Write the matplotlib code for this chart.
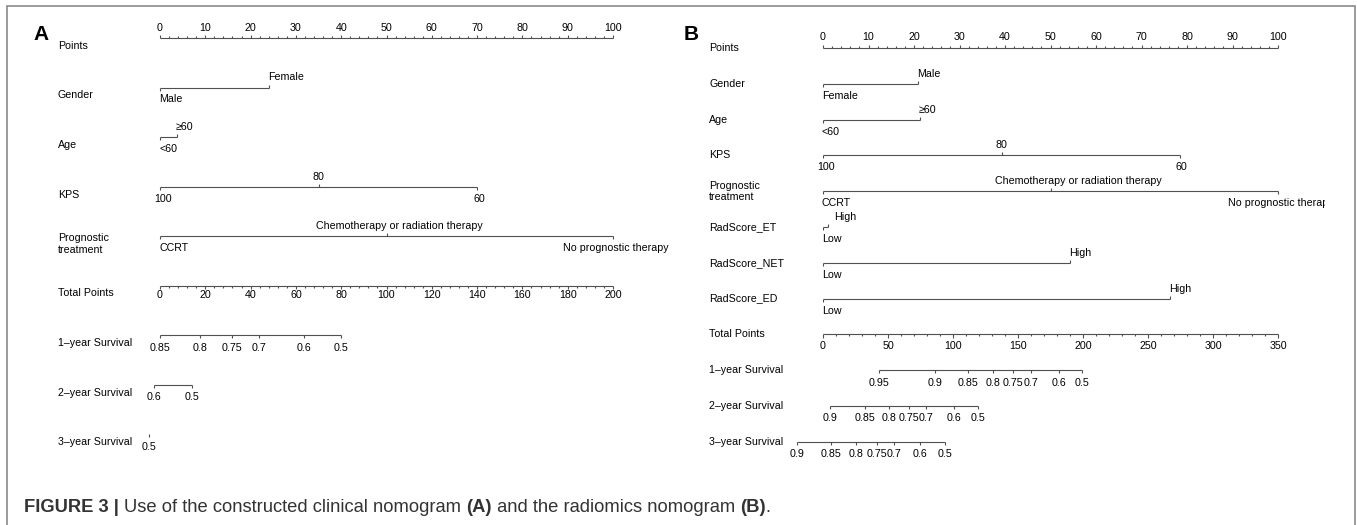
import numpy as np
import matplotlib.pyplot as plt
from matplotlib.patches import Rectangle

plt.rcParams['font.family'] = ['Liberation Sans', 'DejaVu Sans']

# ---------------- panel A : clinical nomogram ----------------
a_points = [0, 10, 20, 30, 40, 50, 60, 70, 80, 90, 100]
a_gender = ['Male', 'Female']
a_gender_pts = [0, 24]
a_age = ['<60', '≥60']
a_age_pts = [0, 3.7]
a_kps = ['100', '80', '60']
a_kps_pts = [0, 35, 70]
a_treat = ['CCRT', 'Chemotherapy or radiation therapy', 'No prognostic therapy']
a_treat_pts = [0, 50, 100]
a_total = [0, 20, 40, 60, 80, 100, 120, 140, 160, 180, 200]
a_surv1 = ['0.85', '0.8', '0.75', '0.7', '0.6', '0.5']
a_surv1_tp = [0, 17.7, 31.8, 43.5, 63.4, 80]
a_surv2 = ['0.6', '0.5']
a_surv2_tp = [-2.6, 14.3]
a_surv3 = ['0.5']
a_surv3_tp = [-5.0]

# ---------------- panel B : radiomics nomogram ----------------
b_points = [0, 10, 20, 30, 40, 50, 60, 70, 80, 90, 100]
b_gender = ['Female', 'Male']
b_gender_pts = [0, 20.8]
b_age = ['<60', '≥60']
b_age_pts = [0, 21.3]
b_kps = ['100', '80', '60']
b_kps_pts = [0, 39.3, 78.4]
b_treat = ['CCRT', 'Chemotherapy or radiation therapy', 'No prognostic therapy']
b_treat_pts = [0, 50, 100]
b_et = ['Low', 'High']
b_et_pts = [0, 1.0]
b_net = ['Low', 'High']
b_net_pts = [0, 54.3]
b_ed = ['Low', 'High']
b_ed_pts = [0, 76.3]
b_total = [0, 50, 100, 150, 200, 250, 300, 350]
b_surv1 = ['0.95', '0.9', '0.85', '0.8', '0.75', '0.7', '0.6', '0.5']
b_surv1_tp = [42.8, 85.9, 111.8, 130.8, 146.4, 159.7, 181.3, 199.6]
b_surv2 = ['0.9', '0.85', '0.8', '0.75', '0.7', '0.6', '0.5']
b_surv2_tp = [5.6, 32.2, 51.1, 66.0, 79.0, 100.6, 119.2]
b_surv3 = ['0.9', '0.85', '0.8', '0.75', '0.7', '0.6', '0.5']
b_surv3_tp = [-19.7, 6.3, 25.5, 41.2, 54.4, 74.3, 93.9]

W, H = 1357, 525
fig = plt.figure(figsize=(W / 100, H / 100), dpi=100)
LC = '#505050'
FS = 7.7


def make_axes(left, right, p0, p100, tmax):
    # points axis: 0 -> pixel p0, 100 -> pixel p100; y in pixels from top
    k = (p100 - p0) / 100.0
    rect = [left / W, 0, (right - left) / W, 1]
    ax = fig.add_axes(rect)
    ax.set_xlim((left - p0) / k, (right - p0) / k)
    ax.set_ylim(H, 0)
    ax.axis('off')
    axt = fig.add_axes(rect)
    lo, hi = ax.get_xlim()
    axt.set_xlim(lo * tmax / 100.0, hi * tmax / 100.0)
    axt.set_ylim(H, 0)
    axt.axis('off')
    return ax, axt


def label(ax, x, y, s, ha='center', dx=0):
    ax.annotate(s, (x, y), xytext=(dx, 0), textcoords='offset pixels',
                ha=ha, va='center', fontsize=FS, annotation_clip=False,
                clip_on=True)


def scale_row(ax, y, vals, labels, side, dy, minor=None, tl=3.5, ml=2.0):
    sgn = -1 if side == 'above' else 1
    lo, hi = min(vals), max(vals)
    ax.plot([lo, hi], [y, y], color=LC, lw=0.8, solid_capstyle='butt')
    ax.vlines(vals, y, y + sgn * tl, color=LC, lw=0.8)
    if minor:
        m = [v for v in np.arange(lo, hi, minor)
             if min(abs(v - u) for u in vals) > 1e-6]
        ax.vlines(m, y, y + sgn * ml, color=LC, lw=0.8)
    for v, s in zip(vals, labels):
        label(ax, v, y + sgn * dy, s)


def cat_row(ax, y, pts, labels, has=None, dxs=None, tl=3.0):
    has = has or ['left'] * len(pts)
    dxs = dxs or [-1] * len(pts)
    ax.plot([min(pts), max(pts)], [y, y], color=LC, lw=0.8,
            solid_capstyle='butt')
    for i, (p, s) in enumerate(zip(pts, labels)):
        sgn = 1 if i % 2 == 0 else -1
        ax.vlines(p, y, y + sgn * tl, color=LC, lw=0.8)
        label(ax, p, y + (12 if sgn > 0 else -10), s, ha=has[i], dx=dxs[i])


def name(ax, fx, y, s):
    ax.text(fx, y, s, transform=ax.get_yaxis_transform(), ha='left',
            va='center', fontsize=FS, linespacing=1.15)


# ---------------- draw panel A ----------------
axA, axAt = make_axes(50, 680, 160, 613, 200)
rowsA = [38, 87.5, 137, 186.5, 236, 285.5, 335, 384.5, 434]
ndA = 8
nxA = (58 - 50) / (680 - 50)
fig.text(33 / W, 1 - 34 / H, 'A', fontsize=15, fontweight='bold', va='center')

scale_row(axA, rowsA[0], a_points, [str(v) for v in a_points], 'above', 10,
          minor=2)
name(axA, nxA, rowsA[0] + ndA, 'Points')
cat_row(axA, rowsA[1], a_gender_pts, a_gender)
name(axA, nxA, rowsA[1] + ndA, 'Gender')
cat_row(axA, rowsA[2], a_age_pts, a_age)
name(axA, nxA, rowsA[2] + ndA, 'Age')
cat_row(axA, rowsA[3], a_kps_pts, a_kps, has=['center'] * 3, dxs=[3, 0, 2])
name(axA, nxA, rowsA[3] + ndA, 'KPS')
cat_row(axA, rowsA[4], a_treat_pts, a_treat,
        has=['left', 'center', 'center'], dxs=[-1, 13, 3])
name(axA, nxA, rowsA[4] + ndA, 'Prognostic\ntreatment')
scale_row(axAt, rowsA[5], a_total, [str(v) for v in a_total], 'below', 10,
          minor=4)
name(axA, nxA, rowsA[5] + ndA, 'Total Points')
scale_row(axAt, rowsA[6], a_surv1_tp, a_surv1, 'below', 13, tl=3)
name(axA, nxA, rowsA[6] + ndA, '1\u2013year Survival')
scale_row(axAt, rowsA[7], a_surv2_tp, a_surv2, 'below', 13, tl=3)
name(axA, nxA, rowsA[7] + ndA, '2\u2013year Survival')
scale_row(axAt, rowsA[8], a_surv3_tp, a_surv3, 'below', 13, tl=3)
name(axA, nxA, rowsA[8] + ndA, '3\u2013year Survival')

# ---------------- draw panel B ----------------
axB, axBt = make_axes(700, 1325, 823, 1278, 350)
rowsB = [48 + 35.8 * i for i in range(12)]
nxB = (709 - 700) / (1325 - 700)
fig.text(684 / W, 1 - 34 / H, 'B', fontsize=15, fontweight='bold', va='center')

scale_row(axB, rowsB[0], b_points, [str(v) for v in b_points], 'above', 11,
          minor=2)
name(axB, nxB, rowsB[0], 'Points')
cat_row(axB, rowsB[1], b_gender_pts, b_gender)
name(axB, nxB, rowsB[1], 'Gender')
cat_row(axB, rowsB[2], b_age_pts, b_age)
name(axB, nxB, rowsB[2], 'Age')
cat_row(axB, rowsB[3], b_kps_pts, b_kps, has=['center'] * 3, dxs=[3, 0, 2])
name(axB, nxB, rowsB[3], 'KPS')
cat_row(axB, rowsB[4], b_treat_pts, b_treat,
        has=['left', 'center', 'center'], dxs=[-1, 28, 3])
name(axB, nxB, rowsB[4], 'Prognostic\ntreatment')
cat_row(axB, rowsB[5], b_et_pts, b_et, dxs=[-1, 7])
name(axB, nxB, rowsB[5], 'RadScore_ET')
cat_row(axB, rowsB[6], b_net_pts, b_net)
name(axB, nxB, rowsB[6], 'RadScore_NET')
cat_row(axB, rowsB[7], b_ed_pts, b_ed)
name(axB, nxB, rowsB[7], 'RadScore_ED')
scale_row(axBt, rowsB[8], b_total, [str(v) for v in b_total], 'below', 12,
          minor=10)
name(axB, nxB, rowsB[8], 'Total Points')
scale_row(axBt, rowsB[9], b_surv1_tp, b_surv1, 'below', 13, tl=3)
name(axB, nxB, rowsB[9], '1\u2013year Survival')
scale_row(axBt, rowsB[10], b_surv2_tp, b_surv2, 'below', 12, tl=3)
name(axB, nxB, rowsB[10], '2\u2013year Survival')
scale_row(axBt, rowsB[11], b_surv3_tp, b_surv3, 'below', 12, tl=3)
name(axB, nxB, rowsB[11], '3\u2013year Survival')

# ---------------- frame and caption ----------------
fig.add_artist(Rectangle((7 / W, -0.1), (1355 - 7) / W, 1.1 - 6 / H,
                         transform=fig.transFigure, fill=False,
                         edgecolor='#8a8a8a', lw=1.2, clip_on=False))

cap = fig.add_axes([0, 0, 1, 1])
cap.axis('off')
pieces = [('FIGURE 3 | ', 'bold'),
          ('Use of the constructed clinical nomogram ', 'normal'),
          ('(A)', 'bold'),
          (' and the radiomics nomogram ', 'normal'),
          ('(B)', 'bold'),
          ('.', 'normal')]
t = cap.text(24 / W, 1 - 508 / H, pieces[0][0], fontweight='bold',
             fontsize=13.2, va='center', color='#333333')
for s, w in pieces[1:]:
    t = cap.annotate(s, xy=(1, 0), xycoords=t, ha='left', va='bottom',
                     fontweight=w, fontsize=13.2, color='#333333')

fig.savefig('out.png', dpi=100)
